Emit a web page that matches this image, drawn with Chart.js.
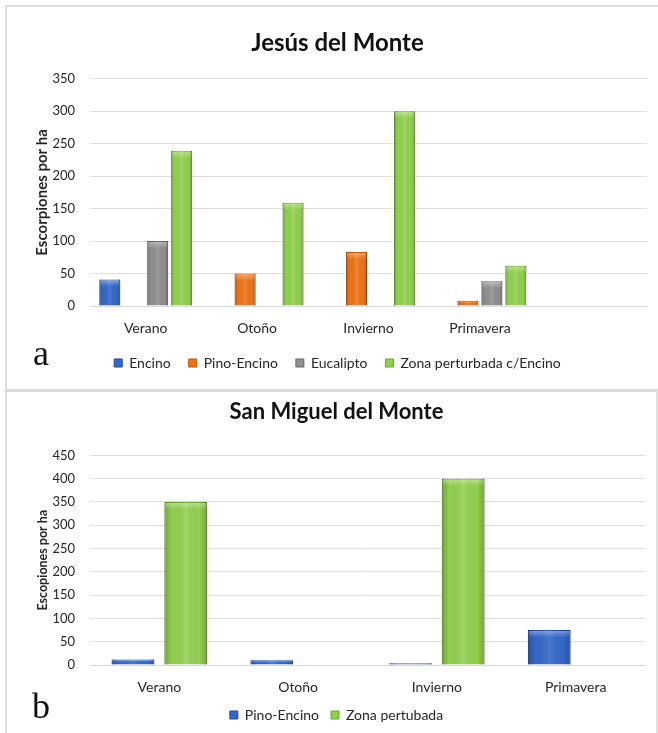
<!DOCTYPE html>
<html lang="es">
<head>
<meta charset="utf-8" />
<title>Escorpiones por ha</title>
<script src="https://cdn.jsdelivr.net/npm/chart.js"></script>
<style>
  body { margin: 0; background: #fff; width: 658px; height: 733px; overflow: hidden; }
  .frame { position: absolute; box-sizing: border-box; }
  .letter { position: absolute; font-family: "Liberation Serif", "DejaVu Serif", serif; font-size: 36px; line-height: 36px; color: #111; }
  canvas { position: absolute; }
</style>
<script>
// panel a: Jesús del Monte
const seasonsA = ['Verano', 'Otoño', 'Invierno', 'Primavera', ''];
const encinoA = [41, null, null, null, null];
const pinoEncinoA = [null, 50, 83, 8, null];
const eucaliptoA = [100, null, null, 38, null];
const zonaEncinoA = [239, 159, 300, 62, null];
const yMaxA = 350;

// panel b: San Miguel del Monte
const seasonsB = ['Verano', 'Otoño', 'Invierno', 'Primavera'];
const pinoEncinoB = [12, 10, 4, 75];
const zonaB = [350, null, 400, null];
const yMaxB = 450;

const yStep = 50;

const BLUE = '#3468c8', ORANGE = '#ec7418', GRAY = '#8f8f8f', GREEN = '#92d050';
const DARK = { [BLUE]: '#24498f', [ORANGE]: '#b8560c', [GRAY]: '#666666', [GREEN]: '#6aa232' };

function ds(label, data, color) {
    return { label: label, data: data, backgroundColor: color, borderColor: DARK[color], borderWidth: 1 };
}

// excel style bevel: darker sides, soft light top
const bevel = {
    id: 'bevel',
    afterDatasetsDraw(chart) {
        const ctx = chart.ctx;
        chart.data.datasets.forEach(function (d, i) {
            chart.getDatasetMeta(i).data.forEach(function (bar) {
                const p = bar.getProps(['x', 'y', 'base', 'width'], true);
                const h = p.base - p.y;
                if (!(h >= 1)) return;
                const l = p.x - p.width / 2;
                const g = ctx.createLinearGradient(l, 0, l + p.width, 0);
                g.addColorStop(0, 'rgba(0,0,0,0.22)');
                g.addColorStop(0.18, 'rgba(0,0,0,0)');
                g.addColorStop(0.5, 'rgba(255,255,255,0.12)');
                g.addColorStop(0.82, 'rgba(0,0,0,0)');
                g.addColorStop(1, 'rgba(0,0,0,0.22)');
                ctx.save();
                ctx.fillStyle = g;
                ctx.fillRect(l, p.y, p.width, h);
                const capH = Math.min(7, h / 2);
                const t = ctx.createLinearGradient(0, p.y, 0, p.y + capH);
                t.addColorStop(0, 'rgba(255,255,255,0.4)');
                t.addColorStop(1, 'rgba(255,255,255,0)');
                ctx.fillStyle = t;
                ctx.fillRect(l + 1, p.y + 1, p.width - 2, capH);
                ctx.restore();
            });
        });
    }
};

function makeChart(id, labels, datasets, o) {
    return new Chart(document.getElementById(id), {
        type: 'bar',
        data: { labels: labels, datasets: datasets },
        plugins: [bevel],
        options: {
            responsive: false,
            animation: false,
            categoryPercentage: o.cp,
            barPercentage: o.bp,
            layout: { padding: { left: 20, right: o.padRight, top: 0, bottom: o.padBottom } },
            plugins: {
                title: {
                    display: true, text: o.title, color: '#111',
                    font: { size: o.titleSize, weight: 'bold' },
                    padding: { top: o.titleTop, bottom: o.titleBottom }
                },
                legend: {
                    position: 'bottom',
                    labels: { boxWidth: 8, boxHeight: 8, padding: o.legendPad, color: '#262626', font: { size: 14 } }
                },
                tooltip: { enabled: false }
            },
            scales: {
                x: {
                    grid: { display: false, drawTicks: false },
                    border: { color: '#d9d9d9' },
                    ticks: { color: '#262626', font: { size: 14 }, padding: o.xPad },
                    afterFit: function (s) { s.height = o.xHeight; }
                },
                y: {
                    min: 0, max: o.yMax,
                    grid: { color: '#dedede', drawTicks: false },
                    border: { display: false },
                    ticks: { stepSize: yStep, color: '#262626', font: { size: 13 }, padding: 15 },
                    title: {
                        display: true, text: o.yTitle, color: '#262626',
                        font: { size: o.yTitleSize, weight: 'bold' }, padding: { top: o.yTitleTop, bottom: 0 }
                    },
                    afterFit: function (s) { s.width = 62; }
                }
            }
        }
    });
}

document.addEventListener('DOMContentLoaded', function () {
    Chart.defaults.font.family = 'Lato, "Open Sans", sans-serif';

    makeChart('chartA', seasonsA, [
        ds('Encino', encinoA, BLUE),
        ds('Pino-Encino', pinoEncinoA, ORANGE),
        ds('Eucalipto', eucaliptoA, GRAY),
        ds('Zona perturbada c/Encino', zonaEncinoA, GREEN)
    ], {
        title: 'Jesús del Monte', titleSize: 24, titleTop: 21, titleBottom: 21,
        yTitle: 'Escorpiones por ha', yTitleSize: 15, yTitleTop: 5, yMax: yMaxA,
        cp: 0.86, bp: 0.875, padRight: 9, padBottom: 8, xHeight: 32, xPad: 14, legendPad: 18
    });

    makeChart('chartB', seasonsB, [
        ds('Pino-Encino', pinoEncinoB, BLUE),
        ds('Zona pertubada', zonaB, GREEN)
    ], {
        title: 'San Miguel del Monte', titleSize: 22, titleTop: 6, titleBottom: 30,
        yTitle: 'Escopiones por ha', yTitleSize: 12.5, yTitleTop: 7, yMax: yMaxB,
        cp: 0.76, bp: 0.81, padRight: 11, padBottom: 1, xHeight: 31, xPad: 14, legendPad: 12
    });
});
</script>
</head>
<body>
<div class="frame" style="left:5px;top:5px;width:653px;height:728px;border-left:2px solid #dedede;border-top:2px solid #dedede;"></div>
<div class="frame" style="left:5px;top:389px;width:653px;height:344px;border-top:3px solid #d9d9d9;border-right:2px solid #dedede;"></div>
<canvas id="chartA" width="648" height="380" style="left:8px;top:8px;"></canvas>
<canvas id="chartB" width="648" height="340" style="left:8px;top:393px;"></canvas>
<div class="letter" style="left:33px;top:335px;">a</div>
<div class="letter" style="left:32px;top:688px;">b</div>
</body>
</html>
